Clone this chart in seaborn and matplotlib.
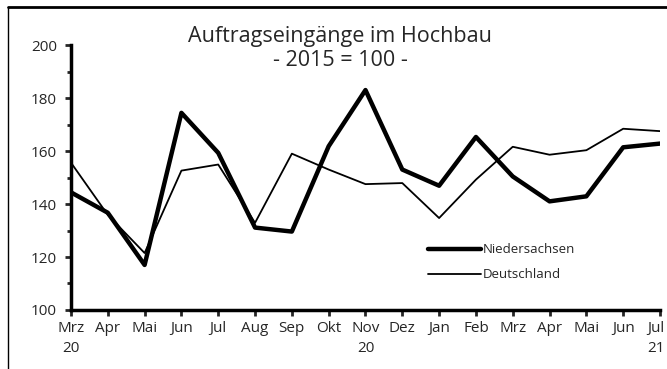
import matplotlib
matplotlib.use("Agg")
import matplotlib.pyplot as plt
from matplotlib.lines import Line2D
from matplotlib.ticker import MultipleLocator
from matplotlib.transforms import ScaledTranslation
import seaborn as sns
import pandas as pd

months = ["Mrz\n20", "Apr", "Mai", "Jun", "Jul", "Aug", "Sep", "Okt", "Nov\n20",
          "Dez", "Jan", "Feb", "Mrz", "Apr", "Mai", "Jun", "Jul\n21"]
niedersachsen = [144.4, 136.7, 117.0, 174.4, 159.3, 131.1, 129.6, 161.8, 183.0,
                 153.0, 146.9, 165.3, 150.4, 141.0, 142.9, 161.4, 162.8]
deutschland = [155.6, 135.9, 121.5, 152.6, 154.9, 132.9, 159.0, 153.0, 147.5,
               147.9, 134.7, 149.2, 161.6, 158.6, 160.3, 168.4, 167.5]
series_names = ["Niedersachsen", "Deutschland"]

df = pd.concat([
    pd.DataFrame({"pos": range(len(months)), "wert": niedersachsen, "reihe": series_names[0]}),
    pd.DataFrame({"pos": range(len(months)), "wert": deutschland, "reihe": series_names[1]}),
])

sns.set_style("white")
plt.rcParams["font.family"] = ["Open Sans", "DejaVu Sans"]

fig = plt.figure(figsize=(6.67, 3.69), dpi=100)
ax = fig.add_axes([0.1064, 0.1599, 0.8831, 0.7181])

sns.lineplot(data=df, x="pos", y="wert", hue="reihe", size="reihe",
             sizes={series_names[0]: 3.2, series_names[1]: 1.3},
             palette={series_names[0]: "black", series_names[1]: "black"},
             ax=ax, legend=False)

ax.set_xlim(0, len(months) - 1)
ax.set_ylim(100, 200)
ax.set_xticks(range(len(months)))
ax.set_xticklabels(months, fontsize=11, linespacing=1.4)
ax.yaxis.set_major_locator(MultipleLocator(20))
ax.yaxis.set_minor_locator(MultipleLocator(10))
ax.tick_params(axis="y", which="major", labelsize=11, length=4, width=2, direction="out", left=True, pad=6)
ax.tick_params(axis="y", which="minor", length=3, width=2, direction="out", left=True)
ax.tick_params(axis="x", which="major", length=4, width=2, direction="out", bottom=True, pad=4)
ax.set_xlabel("")
ax.set_ylabel("")
for side in ("top", "right"):
    ax.spines[side].set_visible(False)
for side in ("left", "bottom"):
    ax.spines[side].set_linewidth(2.5)
    ax.spines[side].set_color("black")
ax.set_facecolor("white")

# keep the last month label inside the figure
last = ax.get_xticklabels()[-1]
last.set_transform(last.get_transform() + ScaledTranslation(-4 / 100, 0, fig.dpi_scale_trans))

handles = [Line2D([], [], color="black", lw=3.2), Line2D([], [], color="black", lw=1.3)]
ax.legend(handles, series_names, loc="center left", bbox_to_anchor=(0.598, 0.18),
          frameon=False, fontsize=9.5, handlelength=4.0, handletextpad=0.15,
          labelspacing=0.9, borderaxespad=0)

fig.text(0.51, 0.902, "Auftragseingänge im Hochbau", ha="center", va="center", fontsize=15.5)
fig.text(0.51, 0.836, "- 2015 = 100 -", ha="center", va="center", fontsize=15.5)

# outer frame lines
fig.add_artist(Line2D([0.012, 1.0], [0.981, 0.981], transform=fig.transFigure, color="black", lw=2))
fig.add_artist(Line2D([0.012, 0.012], [0.0, 0.981], transform=fig.transFigure, color="black", lw=1))

fig.savefig("out.png", dpi=100)
